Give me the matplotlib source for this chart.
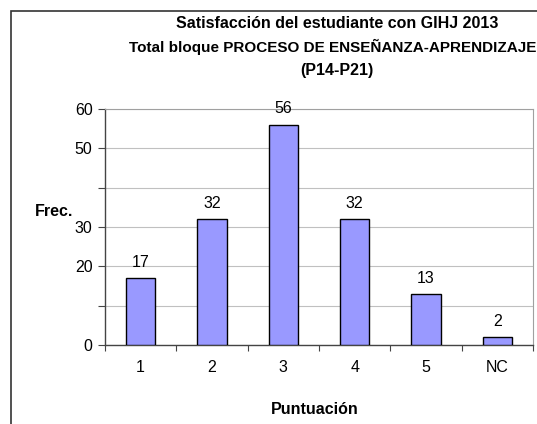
import matplotlib.pyplot as plt
from matplotlib.patches import Rectangle

# Frequency of each score (students' satisfaction)
categories = ['1', '2', '3', '4', '5', 'NC']
freq = [17, 32, 56, 32, 13, 2]
ytick_vals = [0, 10, 20, 30, 40, 50, 60]
ytick_labels = ['0', '', '20', '30', '', '50', '60']

plt.rcParams['font.family'] = ['Liberation Sans', 'DejaVu Sans']

W, H = 537, 424
fig = plt.figure(figsize=(W / 100, H / 100), dpi=100)

# outer chart frame (runs past the right and bottom edges)
fig.patches.append(Rectangle((11 / W, -0.1), 1.2, 1 - 11 / H + 0.1,
                             transform=fig.transFigure, fill=False,
                             edgecolor='#333333', linewidth=1.2))

ax = fig.add_axes([105 / W, 1 - 345 / H, 428 / W, 236 / H])
x = range(len(categories))
bars = ax.bar(x, freq, width=0.41, color='#9999ff', edgecolor='black', linewidth=1, zorder=3)

for xi, v in zip(x, freq):
    ax.annotate(str(v), (xi, v), xytext=(0, 6), textcoords='offset points',
                ha='center', va='bottom', fontsize=11.5)

ax.set_xlim(-0.5, len(categories) - 0.5)
ax.set_ylim(0, 60)
ax.set_yticks(ytick_vals)
ax.set_yticklabels(ytick_labels, fontsize=11.5)
ax.set_xticks([i + 0.5 for i in range(-1, len(categories))], minor=False)
ax.set_xticklabels([])
ax.set_xticks(list(x), minor=True)
ax.set_xticklabels(categories, minor=True, fontsize=11.5)
ax.tick_params(axis='x', which='minor', length=0, pad=11)
ax.tick_params(axis='x', which='major', length=4, direction='out', color='#444444')
ax.tick_params(axis='y', length=5, direction='out', color='#444444', pad=4)
ax.yaxis.grid(True, color='#c0c0c0', linewidth=0.8, zorder=0)
ax.set_axisbelow(True)

for side in ['top', 'right']:
    ax.spines[side].set_color('#a0a0a0')
    ax.spines[side].set_linewidth(0.8)
for side in ['left', 'bottom']:
    ax.spines[side].set_color('#444444')
    ax.spines[side].set_linewidth(1)

fig.text(337 / W, 1 - 23 / H, 'Satisfacción del estudiante con GIHJ 2013',
         ha='center', va='center', fontsize=11.5, fontweight='bold')
fig.text(333 / W, 1 - 47 / H, 'Total bloque PROCESO DE ENSEÑANZA-APRENDIZAJE',
         ha='center', va='center', fontsize=11, fontweight='bold')
fig.text(337 / W, 1 - 71 / H, '(P14-P21)',
         ha='center', va='center', fontsize=11.5, fontweight='bold')
fig.text(54 / W, 1 - 212 / H, 'Frec.', ha='center', va='center', fontsize=11.5, fontweight='bold')
fig.text(315 / W, 1 - 410 / H, 'Puntuación', ha='center', va='center', fontsize=11.5, fontweight='bold')

fig.savefig('out.png', dpi=100)
